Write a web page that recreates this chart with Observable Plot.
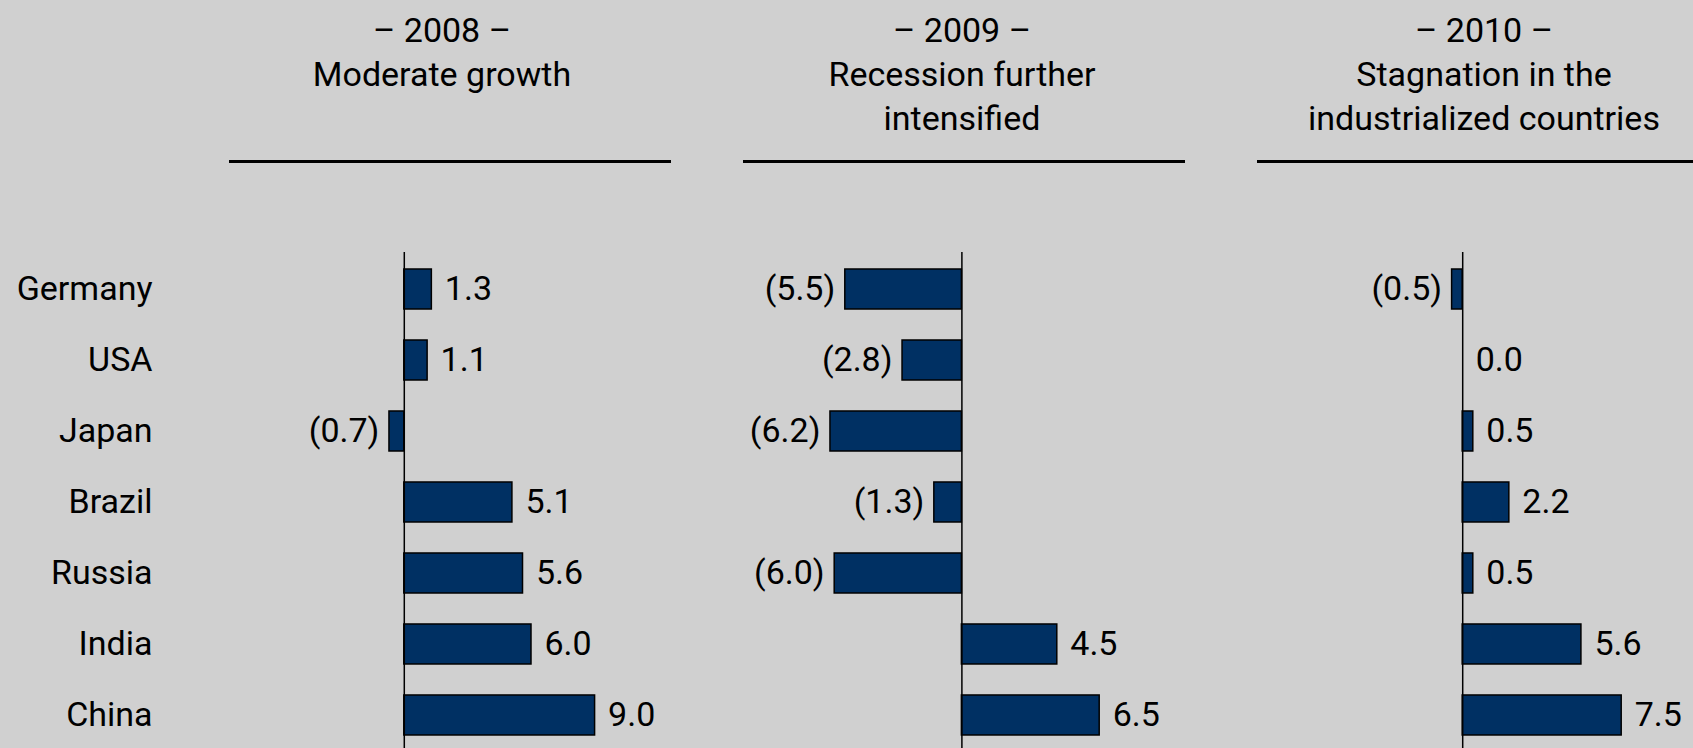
<!DOCTYPE html>
<html>
<head>
<meta charset="utf-8">
<script src="https://cdn.jsdelivr.net/npm/d3@7"></script>
<script src="https://cdn.jsdelivr.net/npm/@observablehq/plot@0.6"></script>
<style>
  html, body { margin: 0; padding: 0; background: #d0d0d0; overflow: hidden; }
  #stage { position: relative; width: 1693px; height: 748px; overflow: hidden; background: #d0d0d0;
           font-family: Roboto, sans-serif; color: #000; }
  .hdr { position: absolute; top: 8px; font-size: 34px; line-height: 44px; text-align: center; color: #000; }
  .rule { position: absolute; top: 160px; height: 3px; background: #000; }
  .panel { position: absolute; top: 252px; }
  .panel svg { max-width: none !important; }
</style>
</head>
<body>
<div id="stage"></div>
<script>
// ---- data ----
const countries = ["Germany", "USA", "Japan", "Brazil", "Russia", "India", "China"];
const v2008 = [1.3, 1.1, -0.7, 5.1, 5.6, 6.0, 9.0];
const v2009 = [-5.5, -2.8, -6.2, -1.3, -6.0, 4.5, 6.5];
const v2010 = [-0.5, 0.0, 0.5, 2.2, 0.5, 5.6, 7.5];
const years = ["2008", "2009", "2010"];
const headlines = [["Moderate growth"], ["Recession further", "intensified"], ["Stagnation in the", "industrialized countries"]];

// ---- layout ----
const stage = document.getElementById("stage");
const K = 21.2; // px per unit
const BAR = "#003063";
const fmt = v => v < 0 ? `(${(-v).toFixed(1)})` : v.toFixed(1);

const headerLayout = [
  {lineLeft: 229, lineWidth: 442, textCenter: 442},
  {lineLeft: 743, lineWidth: 442, textCenter: 962},
  {lineLeft: 1257, lineWidth: 442, textCenter: 1484}
];
headerLayout.forEach((h, i) => {
  const d = document.createElement("div");
  d.className = "hdr";
  const w = 500;
  d.style.left = (h.textCenter - w / 2) + "px";
  d.style.width = w + "px";
  d.innerHTML = [`\u2013 ${years[i]} \u2013`, ...headlines[i]].map(t => `<div>${t}</div>`).join("");
  stage.appendChild(d);
  const r = document.createElement("div");
  r.className = "rule";
  r.style.left = h.lineLeft + "px";
  r.style.width = h.lineWidth + "px";
  stage.appendChild(r);
});

function panel(vals, {zeroX, domain, labels}) {
  const data = countries.map((c, i) => ({country: c, value: vals[i]}));
  const marginLeft = labels ? (zeroX - (0 - domain[0]) * K) : 100;
  const marginRight = 70;
  const width = marginLeft + (domain[1] - domain[0]) * K + marginRight;
  const left = zeroX - (0 - domain[0]) * K - marginLeft;
  const chart = Plot.plot({
    width, height: 500,
    marginTop: 0, marginBottom: 0, marginLeft, marginRight,
    style: {background: "transparent", fontFamily: "Roboto, sans-serif", fontSize: "34px", color: "#000", overflow: "visible", maxWidth: "none"},
    x: {domain, axis: null},
    y: {
      domain: countries, paddingInner: 0.435, paddingOuter: 0.2045,
      axis: labels ? "left" : null, tickSize: 0, tickPadding: labels ? marginLeft - 152 : 0, label: null
    },
    marks: [
      Plot.barX(data, {x: "value", y: "country", fill: BAR, stroke: "#000", strokeWidth: 1.5}),
      Plot.ruleX([0], {stroke: "#000", strokeWidth: 1.5}),
      Plot.text(data.filter(d => d.value >= 0), {x: "value", y: "country", text: d => fmt(d.value), textAnchor: "start", dx: 13, fill: "#000"}),
      Plot.text(data.filter(d => d.value < 0), {x: "value", y: "country", text: d => fmt(d.value), textAnchor: "end", dx: -10, fill: "#000"})
    ]
  });
  const wrap = document.createElement("div");
  wrap.className = "panel";
  wrap.style.left = left + "px";
  wrap.style.width = width + "px";
  wrap.appendChild(chart);
  stage.appendChild(wrap);
}

panel(v2008, {zeroX: 403.8, domain: [-1, 10], labels: true});
panel(v2009, {zeroX: 961, domain: [-7, 7.5], labels: false});
panel(v2010, {zeroX: 1462, domain: [-1, 8], labels: false});
</script>
</body>
</html>
